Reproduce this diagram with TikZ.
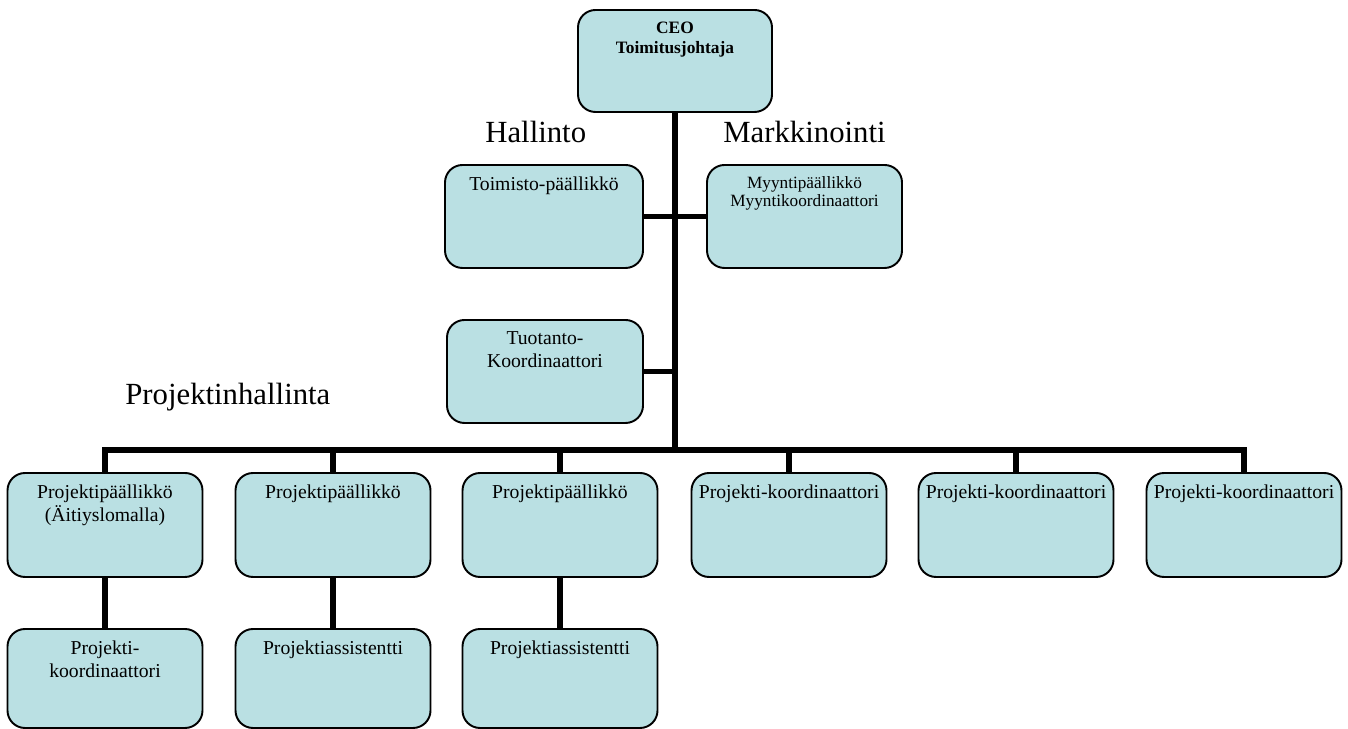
\documentclass[tikz,border=0pt]{standalone}
\usepackage{fontspec}
\setmainfont{Liberation Serif}
\definecolor{boxfill}{RGB}{186,224,227}

\begin{document}
\begin{tikzpicture}[unit/.style = {draw = black, line width = 1.1pt, fill = boxfill, rounded corners = .35cm, minimum width = 3.9cm, minimum height = 2.06cm, inner sep = 0pt},
    txt/.style = {anchor = north, align = center, inner sep = 2pt, yshift = -5pt, font = \fontsize{11.2}{13}\selectfont},
    small/.style = {txt, font = \fontsize{9.8}{10.3}\selectfont},
    head/.style = {anchor = base west, inner sep = 0pt, font = \fontsize{17.5}{20}\selectfont},
    link/.style = {line width = 3pt}]
    \useasboundingbox (0,0) rectangle (26.96,14.58);

    \node[unit, minimum width = 3.88cm, minimum height = 2.04cm, label = {[small, font = \bfseries\fontsize{9.9}{11.3}\selectfont]north:{CEO\\Toimitusjohtaja}}] (ceo) at (13.5,13.36) {};

    \node[head] (hallinto) at (9.7,11.72) {Hallinto};
    \node[head] (markkinointi) at (14.46,11.72) {Markkinointi};
    \node[head] (projhall) at (2.5,6.48) {Projektinhallinta};

    \node[unit, minimum width = 3.96cm, label = {[txt]north:{Toimisto-päällikkö}}] (toimisto) at (10.88,10.25) {};
    \node[unit, label = {[small]north:{Myyntipäällikkö\\Myyntikoordinaattori}}] (myynti) at (16.09,10.25) {};
    \node[unit, minimum width = 3.92cm, label = {[txt]north:{Tuotanto-\\Koordinaattori}}] (tuotanto) at (10.9,7.15) {};

    %\coordinate (hub) at (13.5,5.58);
    \coordinate (hub) at (ceo.south |- 0,5.58);

    \node[unit, minimum height = 2.08cm, label = {[txt]north:{Projektipäällikkö\\(Äitiyslomalla)}}] (pm1) at (2.1,4.08) {};
    \node[unit, minimum height = 2.08cm, label = {[txt]north:{Projektipäällikkö}}] (pm2) at (6.66,4.08) {};
    \node[unit, minimum height = 2.08cm, label = {[txt]north:{Projektipäällikkö}}] (pm3) at (11.2,4.08) {};
    \node[unit, minimum height = 2.08cm, label = {[txt]north:{Projekti-koordinaattori}}] (pk1) at (15.78,4.08) {};
    \node[unit, minimum height = 2.08cm, label = {[txt]north:{Projekti-koordinaattori}}] (pk2) at (20.32,4.08) {};
    \node[unit, minimum height = 2.08cm, label = {[txt]north:{Projekti-koordinaattori}}] (pk3) at (24.88,4.08) {};

    \node[unit, minimum height = 1.98cm, label = {[txt]north:{Projekti-\\koordinaattori}}] (pk4) at (2.1,1.01) {};
    \node[unit, minimum height = 1.98cm, label = {[txt]north:{Projektiassistentti}}] (pa1) at (6.66,1.01) {};
    \node[unit, minimum height = 1.98cm, label = {[txt]north:{Projektiassistentti}}] (pa2) at (11.2,1.01) {};

    \draw[link] (ceo.south) -- (hub);
    \draw[link] (toimisto.east) -- (myynti.west);
    \draw[link] (tuotanto.east) -- (tuotanto.east -| hub);
    \foreach \b in {pm1, pm2, pm3, pk1, pk2, pk3}
        \draw[link] (hub) -| (\b.north);
    \draw[link] (pm1.south) -- (pk4.north);
    \draw[link] (pm2.south) -- (pa1.north);
    \draw[link] (pm3.south) -- (pa2.north);
\end{tikzpicture}
\end{document}
